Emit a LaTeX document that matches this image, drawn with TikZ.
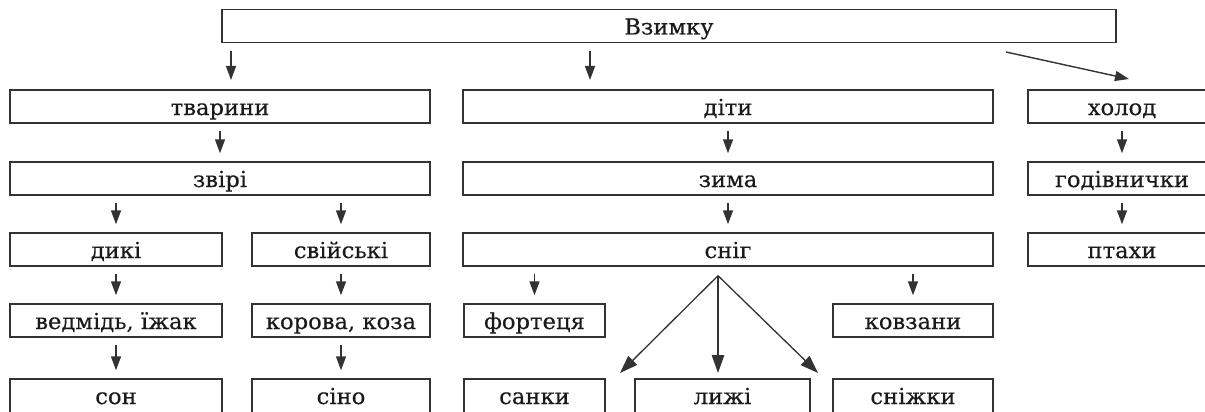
\documentclass[tikz,border=0pt]{standalone}
\usepackage{fontspec}
\setmainfont{DejaVu Serif}[FakeStretch=1.03,FakeBold=0.4]
\usetikzlibrary{arrows.meta,calc}
\definecolor{lc}{HTML}{333333}
\definecolor{tc}{HTML}{1A1A1A}
\begin{document}
\begin{tikzpicture}[x=1pt,y=-1pt,
  box/.style={draw=lc, line width=1.4pt, inner sep=0pt, minimum height=33pt,
    text height=17pt, text depth=0pt, text=tc, font=\fontsize{22}{25}\selectfont},
  lastbox/.style={box, minimum height=44pt, text height=6pt},
  arr/.style={draw=lc, line width=1.4pt, -{Triangle[length=14pt,width=10pt]}},
  bigarr/.style={draw=lc, line width=1.3pt, -{Triangle[length=18pt,width=12.5pt]}}]
\useasboundingbox (0,0) rectangle (1205,412);
\clip (0,0) rectangle (1205,412);

% top
\node[box, minimum width=894pt] (vz) at (669,26) {Взимку};
% row 1
\node[box, minimum width=420pt] (tv) at (220,106.5) {тварини};
\node[box, minimum width=530pt] (dt) at (728,106.5) {діти};
\node[box, minimum width=188pt] (hl) at (1122,106.5) {холод};
% row 2
\node[box, minimum width=420pt] (zv) at (220,178.5) {звірі};
\node[box, minimum width=530pt] (zm) at (728,178.5) {зима};
\node[box, minimum width=188pt] (gd) at (1122,178.5) {годівнички};
% row 3
\node[box, minimum width=212pt] (dk) at (116,249.5) {дикі};
\node[box, minimum width=178pt] (sv) at (341,249.5) {свійські};
\node[box, minimum width=530pt] (sn) at (728,249.5) {сніг};
\node[box, minimum width=188pt] (pt) at (1122,249.5) {птахи};
% row 4
\node[box, minimum width=212pt] (vd) at (116,320.5) {ведмідь, їжак};
\node[box, minimum width=178pt] (kr) at (341,320.5) {корова, коза};
\node[box, minimum width=141pt] (ft) at (534.5,320.5) {фортеця};
\node[box, minimum width=160pt] (kv) at (913,320.5) {ковзани};
% row 5
\node[lastbox, minimum width=212pt] (son) at (116,401) {сон};
\node[lastbox, minimum width=178pt] (sino) at (341,401) {сіно};
\node[lastbox, minimum width=141pt] (sanky) at (534.5,401) {санки};
\node[lastbox, minimum width=175pt] (lyzhi) at (722.5,401) {лижі};
\node[lastbox, minimum width=160pt] (snizh) at (913,401) {сніжки};

% top arrows
\coordinate (t1s) at (231,51);   \coordinate (t1e) at (231,80);
\coordinate (t2s) at (590,51);   \coordinate (t2e) at (590,80);
\coordinate (t3s) at (1006,52);  \coordinate (t3e) at (1129,79);
\draw[arr] (t1s) -- (t1e);
\draw[arr] (t2s) -- (t2e);
\draw[arr] (t3s) -- (t3e);

% vertical arrows between aligned boxes
\draw[arr] ($(zv.north |- tv.south)+(0,7)$) -- ([yshift=8pt]zv.north);
\draw[arr] ($(zm.north |- dt.south)+(0,7)$) -- ([yshift=8pt]zm.north);
\draw[arr] ($(gd.north |- hl.south)+(0,7)$) -- ([yshift=8pt]gd.north);
\draw[arr] ($(dk.north |- zv.south)+(0,7)$) -- ([yshift=8pt]dk.north);
\draw[arr] ($(sv.north |- zv.south)+(0,7)$) -- ([yshift=8pt]sv.north);
\draw[arr] ($(sn.north |- zm.south)+(0,7)$) -- ([yshift=8pt]sn.north);
\draw[arr] ($(pt.north |- gd.south)+(0,7)$) -- ([yshift=8pt]pt.north);
\draw[arr] ($(vd.north |- dk.south)+(0,7)$) -- ([yshift=8pt]vd.north);
\draw[arr] ($(kr.north |- sv.south)+(0,7)$) -- ([yshift=8pt]kr.north);
\draw[arr] ($(ft.north |- sn.south)+(0,7)$) -- ([yshift=8pt]ft.north);
\draw[arr] ($(kv.north |- sn.south)+(0,7)$) -- ([yshift=8pt]kv.north);
\draw[arr] ($(son.north |- vd.south)+(0,7)$) -- ([yshift=8pt]son.north);
\draw[arr] ($(sino.north |- kr.south)+(0,7)$) -- ([yshift=8pt]sino.north);

% fan from snih
\coordinate (apex) at ($(sn.south)+(-10,9)$);
\coordinate (f1) at (620,373);
\coordinate (f2) at (718,373);
\coordinate (f3) at (818,373);
\draw[bigarr] (apex) -- (f1);
\draw[bigarr] (apex) -- (f2);
\draw[bigarr] (apex) -- (f3);
\end{tikzpicture}
\end{document}
